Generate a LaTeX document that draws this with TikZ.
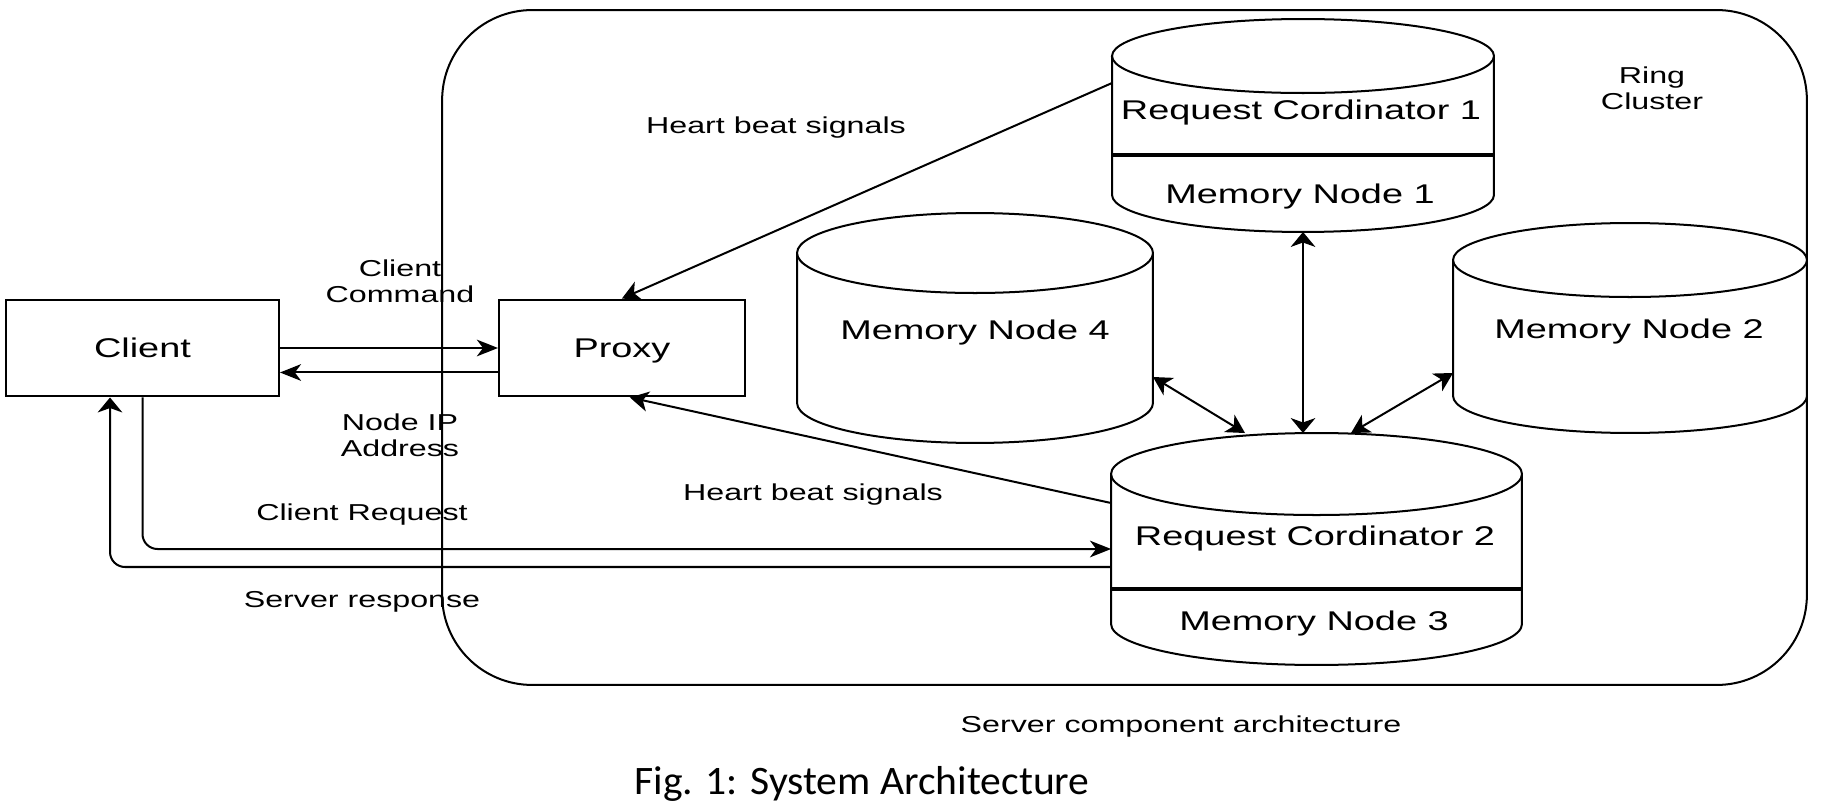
\documentclass[tikz,border=0pt]{standalone}
\usepackage{fontspec}
\setmainfont{Liberation Sans}[FakeStretch=1.4]
\newfontfamily\captionfont{Carlito}[FakeStretch=1.03]
\usetikzlibrary{arrows.meta, positioning}

\newcommand{\boxfont}{\fontsize{15.4}{18}\selectfont}
\newcommand{\labelfont}{\fontsize{13.1}{14.8}\selectfont}

% outline of a storage drum: #1 node, #2 half width, #3 radius of the ends
\newcommand{\drum}[3]{%
  \draw[drumline]
    ([yshift=-#3]#1.north west) -- ([yshift=#3]#1.south west)
    arc[start angle=180, end angle=360, x radius=#2, y radius=#3]
    -- ([yshift=-#3]#1.north east)
    arc[start angle=0, end angle=180, x radius=#2, y radius=#3] -- cycle;
  \draw[drumline] ([yshift=-#3]#1.north west)
    arc[start angle=180, end angle=360, x radius=#2, y radius=#3];
}

\tikzset{
  % arrow heads: the picture is wider than high, so the tips differ
  htip/.tip={Stealth[length=12pt, width=9.5pt, inset=3.5pt]},
  vtip/.tip={Stealth[length=8.5pt, width=14pt, inset=2.5pt]},
  dtip/.tip={Stealth[length=10.5pt, width=11.5pt, inset=3pt]},
  plainbox/.style={
    rectangle, draw=black, line width=1.14pt,
    minimum width=#1, minimum height=1.94cm,
    font=\boxfont, text centered, text depth=0pt
  },
  drum/.style={
    rectangle, inner sep=0pt, outer sep=0pt,
    font=\boxfont, text depth=0pt
  },
  drumline/.style={draw=black, line width=1.14pt, fill=white},
  clusterbox/.style={
    rectangle, rounded corners=1.8cm, draw=black, line width=1.14pt,
    minimum width=27.3cm, minimum height=13.5cm
  },
  divider/.style={line width=2.8pt},
  arrow/.style={-#1, line width=1.14pt},
  arrow/.default=htip,
  dblarrow/.style={#1-#1, line width=1.14pt},
  dblarrow/.default=dtip,
  edgelabel/.style={font=\labelfont, align=center, inner sep=0pt}
}

\begin{document}
\begin{tikzpicture}[x=0.02cm, y=-0.02cm]
  \useasboundingbox (0,0) rectangle (1824,810);

  % ── Ring cluster frame ─────────────────────────────────
  \node[clusterbox] (cluster) at (1124.5,347.5) {};

  % ── Client and proxy ───────────────────────────────────
  \node[plainbox=5.46cm] (client) at (142.5,348) {Client};
  \node[plainbox=4.92cm, right=4.36cm of client] (proxy) {Proxy};

  % ── Storage drums ──────────────────────────────────────
  \node[drum, minimum width=7.64cm, minimum height=4.26cm]
    (rcone) at (1303,125.5) {};
  \drum{rcone}{3.82cm}{0.74cm}
  \node[drum, minimum width=7.12cm, minimum height=4.6cm]
    (mnfour) at (975,328) {};
  \drum{mnfour}{3.56cm}{0.8cm}
  \node[drum, minimum width=7.08cm, minimum height=4.2cm]
    (mntwo) at (1630,328) {};
  \drum{mntwo}{3.54cm}{0.74cm}
  \node[drum, minimum width=8.22cm, minimum height=4.64cm]
    (rctwo) at (1316.5,549) {};
  \drum{rctwo}{4.11cm}{0.82cm}

  % ── Split lines and texts ─────────────────────────────
  \draw[divider] (rcone.west |- 0,155) -- (rcone.east |- 0,155);
  \draw[divider] (rctwo.west |- 0,589) -- (rctwo.east |- 0,589);
  \node[font=\boxfont, anchor=base] (rconetitle) at (1301,120) {Request Cordinator 1};
  \node[font=\boxfont, anchor=base] (mnone) at (1300,204) {Memory Node 1};
  \node[font=\boxfont, anchor=base] (mnfourtitle) at (975,340) {Memory Node 4};
  \node[font=\boxfont, anchor=base] (mntwotitle) at (1629,339) {Memory Node 2};
  \node[font=\boxfont, anchor=base] (rctwotitle) at (1315,545) {Request Cordinator 2};
  \node[font=\boxfont, anchor=base] (mnthree) at (1314,630) {Memory Node 3};

  % ── Arrows: client <-> proxy ──────────────────────────
  \draw[arrow] (client.east) -- (proxy.west);
  \draw[arrow] ([yshift=-0.49cm]proxy.west) -- ([yshift=-0.49cm]client.east);

  % ── Arrows: heart beats ───────────────────────────────
  \draw[arrow=dtip] ([yshift=0.85cm]rcone.west) -- (proxy.north);
  \draw[arrow=dtip] ([yshift=0.92cm]rctwo.west) -- ([xshift=0.16cm]proxy.south);

  % ── Arrows: inside the ring ───────────────────────────
  \draw[dblarrow=vtip] (rcone.south) -- (rcone.south |- rctwo.north);
  \draw[dblarrow] ([yshift=-0.98cm]mnfour.east) -- ([xshift=-1.43cm]rctwo.north);
  \draw[dblarrow] ([yshift=-0.9cm]mntwo.west) -- ([xshift=0.69cm]rctwo.north);

  % ── Arrows: request and response ──────────────────────
  \draw[arrow, rounded corners=0.3cm] (client.south) |- (rctwo.west);
  \draw[arrow=vtip, rounded corners=0.3cm]
    ([yshift=-0.36cm]rctwo.west) -| ([xshift=-0.65cm]client.south);

  % ── Labels ────────────────────────────────────────────
  \node[edgelabel] (cmdlabel) at (400,281) {Client\\Command};
  \node[edgelabel] (iplabel) at (400,435) {Node IP\\Address};
  \node[edgelabel, anchor=base] (reqlabel) at (362,520) {Client Request};
  \node[edgelabel, anchor=base] (resplabel) at (362,607) {Server response};
  \node[edgelabel, anchor=base] (hbtop) at (776,134) {Heart beat signals};
  \node[edgelabel, anchor=base] (hbbottom) at (813,500) {Heart beat signals};
  \node[edgelabel] (ringlabel) at (1652,88) {Ring\\Cluster};
  \node[edgelabel, anchor=base] (serverlabel) at (1181,732)
    {Server component architecture};
  \node[font=\captionfont\fontsize{23}{27}\selectfont, anchor=base]
    (caption) at (862,794) {Fig. 1: System Architecture};

\end{tikzpicture}
\end{document}
